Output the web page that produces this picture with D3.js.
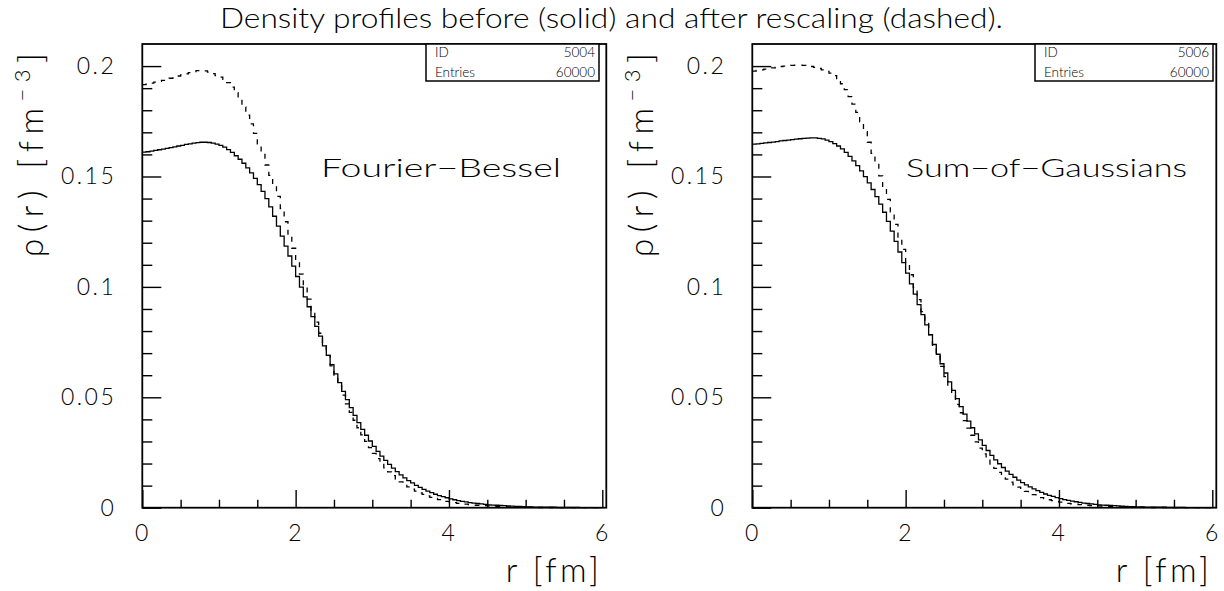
<!DOCTYPE html>
<html>
<head>
<meta charset="utf-8">
<script src="https://cdn.jsdelivr.net/npm/d3@7"></script>
<style>
  body { margin: 0; background: #fff; }
  text { font-family: Lato, "Open Sans", sans-serif; font-weight: 300; fill: #000; }
</style>
</head>
<body>
<svg id="chart" width="1224" height="591"></svg>
<script>
// histogram contents, 120 bins of 0.05 fm from 0 to 6 fm (rows of 10 = 0.5 fm)
const binWidth = 0.05

const fbBefore = [
  0.1610, 0.1612, 0.1615, 0.1618, 0.1621, 0.1624, 0.1627, 0.1631, 0.1634, 0.1638,
  0.1641, 0.1645, 0.1648, 0.1651, 0.1653, 0.1655, 0.1655, 0.1654, 0.1651, 0.1647,
  0.1641, 0.1633, 0.1622, 0.1609, 0.1594, 0.1578, 0.1560, 0.1539, 0.1516, 0.1491,
  0.1463, 0.1433, 0.1400, 0.1362, 0.1320, 0.1275, 0.1230, 0.1185, 0.1140, 0.1094,
  0.1047, 0.0999, 0.0955, 0.0910, 0.0865, 0.0821, 0.0777, 0.0733, 0.0690, 0.0648,
  0.0606, 0.0566, 0.0527, 0.0489, 0.0453, 0.0418, 0.0385, 0.0355, 0.0328, 0.0302,
  0.0278, 0.0255, 0.0234, 0.0214, 0.0196, 0.0179, 0.0163, 0.0149, 0.0135, 0.0123,
  0.0112, 0.0101, 0.0092, 0.0083, 0.0075, 0.0068, 0.0061, 0.0055, 0.0050, 0.0045,
  0.0040, 0.0036, 0.0032, 0.0029, 0.0026, 0.0023, 0.0021, 0.0019, 0.0017, 0.0015,
  0.0013, 0.0012, 0.0011, 0.0010, 0.0009, 0.0008, 0.0007, 0.0006, 0.0006, 0.0005,
  0.0004, 0.0004, 0.0003, 0.0003, 0.0003, 0.0002, 0.0002, 0.0002, 0.0001, 0.0001,
  0.0001, 0.0001, 0.0001, 0.0001, 0, 0, 0, 0, 0, 0
]
const fbAfter = [
  0.1916, 0.1919, 0.1923, 0.1927, 0.1931, 0.1935, 0.1940, 0.1945, 0.1950, 0.1955,
  0.1960, 0.1965, 0.1970, 0.1975, 0.1979, 0.1980, 0.1978, 0.1973, 0.1966, 0.1957,
  0.1950, 0.1940, 0.1925, 0.1905, 0.1880, 0.1850, 0.1815, 0.1778, 0.1738, 0.1695,
  0.1648, 0.1600, 0.1552, 0.1505, 0.1458, 0.1410, 0.1355, 0.1295, 0.1235, 0.1175,
  0.1115, 0.1058, 0.1000, 0.0945, 0.0892, 0.0840, 0.0790, 0.0740, 0.0690, 0.0642,
  0.0596, 0.0552, 0.0510, 0.0470, 0.0432, 0.0396, 0.0362, 0.0330, 0.0300, 0.0272,
  0.0246, 0.0222, 0.0200, 0.0180, 0.0162, 0.0145, 0.0130, 0.0117, 0.0105, 0.0094,
  0.0084, 0.0075, 0.0067, 0.0060, 0.0053, 0.0047, 0.0042, 0.0037, 0.0033, 0.0029,
  0.0026, 0.0023, 0.0020, 0.0018, 0.0016, 0.0014, 0.0012, 0.0011, 0.0010, 0.0009,
  0.0008, 0.0007, 0.0006, 0.0005, 0.0005, 0.0004, 0.0004, 0.0003, 0.0003, 0.0003,
  0.0002, 0.0002, 0.0002, 0.0001, 0.0001, 0.0001, 0.0001, 0.0001, 0, 0,
  0, 0, 0, 0, 0, 0, 0, 0, 0, 0
]
const sogBefore = [
  0.1647, 0.1648, 0.1650, 0.1652, 0.1654, 0.1656, 0.1658, 0.1661, 0.1663, 0.1665,
  0.1667, 0.1669, 0.1671, 0.1673, 0.1674, 0.1675, 0.1675, 0.1673, 0.1670, 0.1665,
  0.1658, 0.1649, 0.1638, 0.1625, 0.1609, 0.1591, 0.1571, 0.1549, 0.1525, 0.1499,
  0.1471, 0.1441, 0.1409, 0.1375, 0.1338, 0.1297, 0.1253, 0.1206, 0.1158, 0.1110,
  0.1062, 0.1014, 0.0967, 0.0920, 0.0874, 0.0828, 0.0783, 0.0739, 0.0695, 0.0652,
  0.0610, 0.0570, 0.0531, 0.0494, 0.0458, 0.0424, 0.0392, 0.0362, 0.0334, 0.0307,
  0.0282, 0.0259, 0.0237, 0.0217, 0.0199, 0.0182, 0.0166, 0.0151, 0.0138, 0.0125,
  0.0114, 0.0103, 0.0094, 0.0085, 0.0077, 0.0069, 0.0062, 0.0056, 0.0051, 0.0046,
  0.0041, 0.0037, 0.0033, 0.0030, 0.0027, 0.0024, 0.0021, 0.0019, 0.0017, 0.0015,
  0.0013, 0.0012, 0.0011, 0.0010, 0.0009, 0.0008, 0.0007, 0.0006, 0.0005, 0.0005,
  0.0004, 0.0004, 0.0003, 0.0003, 0.0002, 0.0002, 0.0002, 0.0002, 0.0001, 0.0001,
  0.0001, 0.0001, 0.0001, 0, 0, 0, 0, 0, 0, 0
]
const sogAfter = [
  0.1977, 0.1980, 0.1983, 0.1986, 0.1989, 0.1992, 0.1995, 0.1998, 0.2000, 0.2002,
  0.2003, 0.2004, 0.2004, 0.2003, 0.2001, 0.1998, 0.1994, 0.1989, 0.1983, 0.1976,
  0.1968, 0.1957, 0.1942, 0.1920, 0.1893, 0.1862, 0.1828, 0.1790, 0.1748, 0.1703,
  0.1655, 0.1605, 0.1555, 0.1503, 0.1450, 0.1396, 0.1340, 0.1283, 0.1226, 0.1170,
  0.1112, 0.1055, 0.0998, 0.0942, 0.0888, 0.0835, 0.0784, 0.0735, 0.0686, 0.0640,
  0.0594, 0.0550, 0.0508, 0.0468, 0.0430, 0.0394, 0.0360, 0.0328, 0.0298, 0.0270,
  0.0244, 0.0220, 0.0198, 0.0178, 0.0160, 0.0144, 0.0129, 0.0116, 0.0104, 0.0093,
  0.0083, 0.0074, 0.0066, 0.0059, 0.0052, 0.0046, 0.0041, 0.0036, 0.0032, 0.0028,
  0.0025, 0.0022, 0.0020, 0.0018, 0.0016, 0.0014, 0.0012, 0.0011, 0.0010, 0.0009,
  0.0008, 0.0007, 0.0006, 0.0005, 0.0005, 0.0004, 0.0004, 0.0003, 0.0003, 0.0003,
  0.0002, 0.0002, 0.0002, 0.0001, 0.0001, 0.0001, 0.0001, 0.0001, 0, 0,
  0, 0, 0, 0, 0, 0, 0, 0, 0, 0
]

const xMajor = [0, 2, 4, 6]
const xMinor = [0.5, 1, 1.5, 2.5, 3, 3.5, 4.5, 5, 5.5]
const yMajor = [0, 0.05, 0.1, 0.15, 0.2]
const yMinor = [0.01, 0.02, 0.03, 0.04, 0.06, 0.07, 0.08, 0.09, 0.11, 0.12, 0.13, 0.14, 0.16, 0.17, 0.18, 0.19]

const titleText = "Density profiles before (solid) and after rescaling (dashed)."
const panelLabels = ["Fourier\u2212Bessel", "Sum\u2212of\u2212Gaussians"]
const histIds = [5004, 5006]
const entries = [60000, 60000]

// layout, pixels
const frameTop = 44, frameBottom = 507.7, frameW = 464, axisW = 460
const frameLeft = [142.3, 752.3]
const boxLeft = [426, 1035], boxRight = [599, 1213]

const svg = d3.select('#chart')

svg.append('text')
  .attr('x', 220).attr('y', 28)
  .attr('font-size', 27)
  .attr('textLength', 783).attr('lengthAdjust', 'spacingAndGlyphs')
  .text(titleText)

const panels = [
  { before: fbBefore, after: fbAfter, label: panelLabels[0], id: histIds[0], n: entries[0], labelX: 321, labelW: 240 },
  { before: sogBefore, after: sogAfter, label: panelLabels[1], id: histIds[1], n: entries[1], labelX: 906, labelW: 281 }
]

panels.forEach(function(p, k) {
  let x0 = frameLeft[k]
  let x = d3.scaleLinear().domain([0, 6]).range([x0, x0 + axisW])
  let y = d3.scaleLinear().domain([0, 0.21]).range([frameBottom, frameTop])

  let g = svg.append('g')

  // step histograms
  let line = d3.line()
    .curve(d3.curveStepAfter)
    .x(d => x(d[0]))
    .y(d => y(d[1]))

  function steps(vals) {
    let pts = vals.map((v, i) => [i * binWidth, v])
    pts.push([vals.length * binWidth, vals[vals.length - 1]])
    return pts
  }

  g.append('path')
    .attr('d', line(steps(p.before)))
    .attr('fill', 'none').attr('stroke', '#000').attr('stroke-width', 1.3)

  g.append('path')
    .attr('d', line(steps(p.after)))
    .attr('fill', 'none').attr('stroke', '#000').attr('stroke-width', 1.3)
    .attr('stroke-dasharray', '5,6')

  // y ticks (inside the frame)
  let yMin = g.append('g').attr('transform', `translate(${x0},0)`)
    .call(d3.axisLeft(y).tickValues(yMinor).tickSize(-10).tickFormat(''))
  let yMaj = g.append('g').attr('transform', `translate(${x0},0)`)
    .call(d3.axisLeft(y).tickValues(yMajor).tickSize(-19).tickPadding(26).tickFormat(d3.format('~g')))

  // x ticks
  let xMin = g.append('g').attr('transform', `translate(0,${frameBottom})`)
    .call(d3.axisBottom(x).tickValues(xMinor).tickSize(-8).tickFormat(''))
  let xMaj = g.append('g').attr('transform', `translate(0,${frameBottom})`)
    .call(d3.axisBottom(x).tickValues(xMajor).tickSize(-17.7).tickPadding(17).tickFormat(d3.format('d')))

  ;[yMin, yMaj, xMin, xMaj].forEach(a => {
    a.select('.domain').remove()
    a.selectAll('line').attr('stroke', '#000').attr('stroke-width', 1.4)
  })
  ;[yMaj, xMaj].forEach(a => {
    a.selectAll('text')
      .attr('font-family', null).attr('font-size', 23)
      .attr('letter-spacing', 2.5)
  })

  // frame
  g.append('rect')
    .attr('x', x0).attr('y', frameTop)
    .attr('width', frameW).attr('height', frameBottom - frameTop)
    .attr('fill', 'none').attr('stroke', '#000').attr('stroke-width', 1.8)

  // statistics box
  let bx = boxLeft[k], bw = boxRight[k] - boxLeft[k]
  g.append('rect')
    .attr('x', bx).attr('y', frameTop)
    .attr('width', bw).attr('height', 37)
    .attr('fill', '#fff').attr('stroke', '#000').attr('stroke-width', 1.5)
  let stat = [['ID', p.id, 13], ['Entries', p.n, 32.5]]
  stat.forEach(s => {
    g.append('text').attr('x', bx + 9).attr('y', frameTop + s[2])
      .attr('font-size', 13.5).attr('font-weight', 400).text(s[0])
    g.append('text').attr('x', bx + bw - 4).attr('y', frameTop + s[2])
      .attr('font-size', 13.5).attr('font-weight', 400)
      .attr('text-anchor', 'end').text(s[1])
  })

  // annotation
  g.append('text')
    .attr('x', p.labelX).attr('y', 177)
    .attr('font-size', 26)
    .attr('textLength', p.labelW).attr('lengthAdjust', 'spacingAndGlyphs')
    .text(p.label)

  // axis titles
  g.append('text')
    .attr('x', x0 + axisW).attr('y', 582)
    .attr('text-anchor', 'end')
    .attr('font-size', 33)
    .attr('letter-spacing', 3.5)
    .text('r [fm]')

  let yl = g.append('text')
    .attr('transform', `translate(${x0 - 99},257) rotate(-90)`)
    .attr('font-size', 33)
    .attr('letter-spacing', 6.5)
  yl.append('tspan').text('\u03c1(r) [fm')
  yl.append('tspan').attr('dy', -13).attr('font-size', 22).text('\u22123')
  yl.append('tspan').attr('dy', 13).text(']')
})
</script>
</body>
</html>
